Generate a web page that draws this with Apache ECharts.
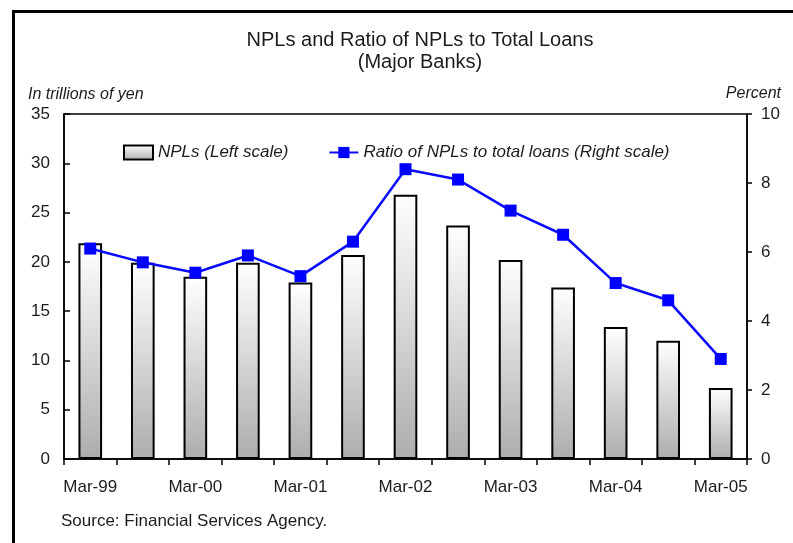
<!DOCTYPE html>
<html>
<head>
<meta charset="utf-8">
<script src="https://cdn.jsdelivr.net/npm/echarts@6/dist/echarts.min.js"></script>
<style>
  html, body { margin: 0; padding: 0; background: #fff; }
  #chart { width: 793px; height: 543px; }
</style>
</head>
<body>
<div id="chart"></div>
<script>
// Half-year observation dates
const categories = ['Mar-99', 'Sep-99', 'Mar-00', 'Sep-00', 'Mar-01', 'Sep-01', 'Mar-02',
                    'Sep-02', 'Mar-03', 'Sep-03', 'Mar-04', 'Sep-04', 'Mar-05'];
// Non-performing loans, trillions of yen (left scale)
const nplValues = [21.9, 19.9, 18.5, 19.9, 17.9, 20.7, 26.8, 23.7, 20.2, 17.4, 13.4, 12.0, 7.2];
// NPLs as a share of total loans, percent (right scale)
const ratioValues = [6.1, 5.7, 5.4, 5.9, 5.3, 6.3, 8.4, 8.1, 7.2, 6.5, 5.1, 4.6, 2.9];
// Axis ticks
const leftTicks = [0, 5, 10, 15, 20, 25, 30, 35];
const rightTicks = [0, 2, 4, 6, 8, 10];

const FONT = '"Liberation Sans", Arial, sans-serif';
const TEXT = '#1c1c1c';

const chart = echarts.init(document.getElementById('chart'), null, { renderer: 'canvas' });

chart.setOption({
  backgroundColor: '#ffffff',
  animation: false,
  title: [
    {
      text: 'NPLs and Ratio of NPLs to Total Loans',
      left: 415, top: 25, textAlign: 'center',
      textStyle: { fontFamily: FONT, fontSize: 20, fontWeight: 'normal', color: TEXT }
    },
    {
      text: '(Major Banks)',
      left: 415, top: 47, textAlign: 'center',
      textStyle: { fontFamily: FONT, fontSize: 20, fontWeight: 'normal', color: TEXT }
    }
  ],
  legend: {
    left: 118, top: 139,
    itemWidth: 29, itemHeight: 14, itemGap: 40,
    textStyle: { fontFamily: FONT, fontSize: 17, fontStyle: 'italic', color: TEXT },
    data: [
      { name: 'NPLs (Left scale)', icon: 'rect' },
      { name: 'Ratio of NPLs to total loans (Right scale)' }
    ]
  },
  grid: {
    left: 64, right: 46, top: 114, bottom: 84,
    show: true, borderColor: '#000', borderWidth: 1.5, backgroundColor: 'transparent'
  },
  xAxis: {
    type: 'category',
    data: categories,
    boundaryGap: true,
    axisLine: { lineStyle: { color: '#000', width: 1.5 } },
    axisTick: { show: true, interval: 0, length: 6, lineStyle: { color: '#000', width: 1.5 } },
    axisLabel: { interval: 1, margin: 20, fontFamily: FONT, fontSize: 17, color: TEXT }
  },
  yAxis: [
    {
      type: 'value', position: 'left',
      min: leftTicks[0], max: leftTicks[leftTicks.length - 1], interval: 5,
      splitLine: { show: false },
      axisLine: { show: true, lineStyle: { color: '#000', width: 1.5 } },
      axisTick: { show: true, inside: true, length: 6, lineStyle: { color: '#000', width: 1.5 } },
      axisLabel: { margin: 14, fontFamily: FONT, fontSize: 17, color: TEXT }
    },
    {
      type: 'value', position: 'right',
      min: rightTicks[0], max: rightTicks[rightTicks.length - 1], interval: 2,
      splitLine: { show: false },
      axisLine: { show: true, lineStyle: { color: '#000', width: 1.5 } },
      axisTick: { show: true, inside: false, length: 5, lineStyle: { color: '#000', width: 1.5 } },
      axisLabel: { margin: 14, fontFamily: FONT, fontSize: 17, color: TEXT }
    }
  ],
  series: [
    {
      name: 'NPLs (Left scale)',
      type: 'bar',
      yAxisIndex: 0,
      data: nplValues,
      barWidth: '45%',
      itemStyle: {
        color: new echarts.graphic.LinearGradient(0, 0, 0, 1, [
          { offset: 0, color: '#ffffff' },
          { offset: 1, color: '#adadad' }
        ]),
        borderColor: '#000',
        borderWidth: 2
      },
      z: 2
    },
    {
      name: 'Ratio of NPLs to total loans (Right scale)',
      type: 'line',
      yAxisIndex: 1,
      data: ratioValues,
      symbol: 'rect',
      symbolSize: 12,
      lineStyle: { color: '#0a0aff', width: 2.5 },
      itemStyle: { color: '#0000ff' },
      z: 3
    }
  ],
  graphic: [
    // outer frame of the exhibit
    {
      type: 'rect', left: 11, top: 9,
      shape: { x: 0, y: 0, width: 820, height: 580 },
      style: { fill: 'none', stroke: '#000', lineWidth: 3 },
      silent: true
    },
    {
      type: 'text', left: 28, top: 87,
      style: { text: 'In trillions of yen', font: 'italic 16px ' + FONT, fill: TEXT }
    },
    {
      type: 'text', right: 12, top: 86,
      style: { text: 'Percent', font: 'italic 16px ' + FONT, fill: TEXT }
    },
    {
      type: 'text', left: 61, top: 513,
      style: { text: 'Source: Financial Services Agency.', font: '17px ' + FONT, fill: TEXT }
    }
  ]
});
</script>
</body>
</html>
